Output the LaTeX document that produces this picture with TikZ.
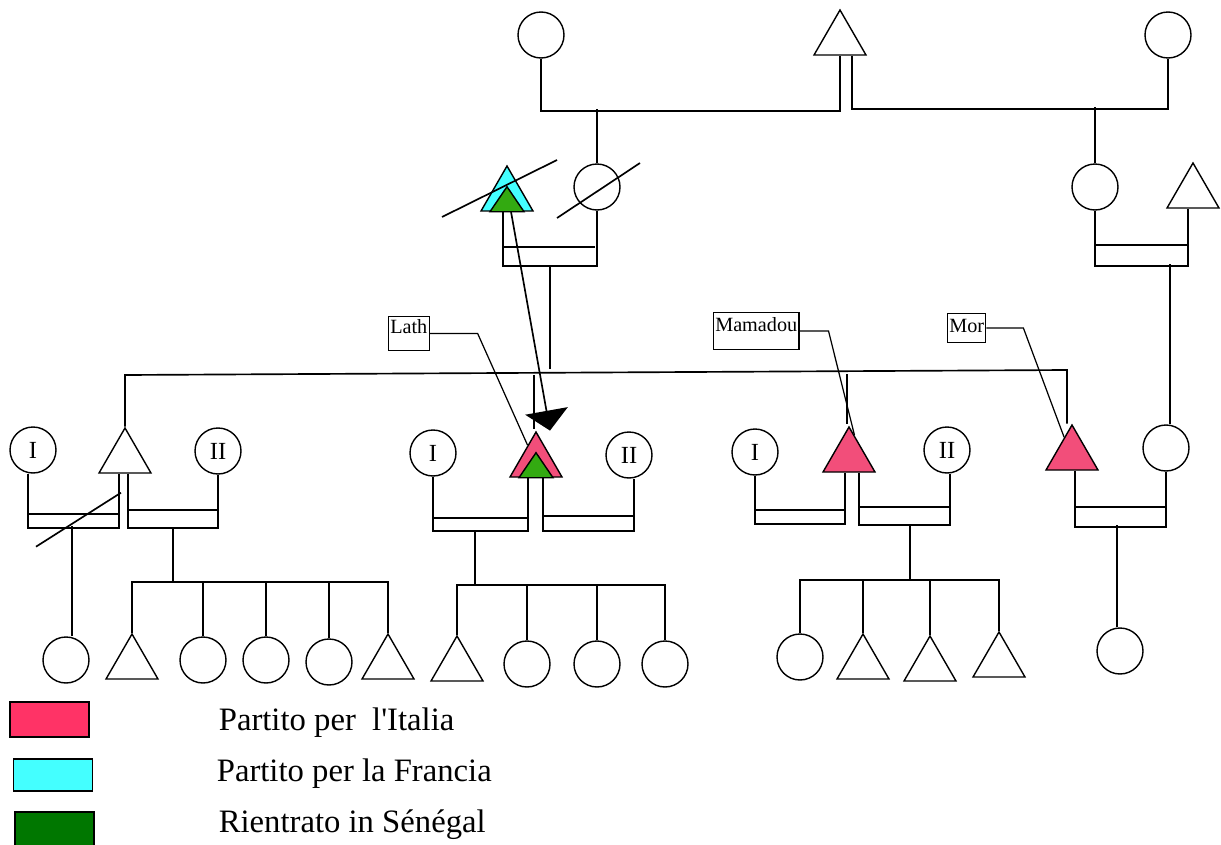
\documentclass[tikz,border=0pt]{standalone}
\usepackage{fontspec}
\setmainfont{Liberation Serif}
\usetikzlibrary{shapes.geometric, arrows.meta, calc}

\definecolor{italia}{HTML}{F24E7A}
\definecolor{italiakey}{HTML}{FF3366}
\definecolor{francia}{HTML}{44FFFF}
\definecolor{rientro}{HTML}{33AA11}
\definecolor{rientrokey}{HTML}{007700}

\begin{document}
\begin{tikzpicture}[x=0.02cm, y=-0.02cm, line width=0.95pt,
    fem/.style={circle, draw, line width=0.8pt, minimum size=0.92cm, inner sep=0pt, font=\fontsize{14}{16}\selectfont},
    mas/.style={regular polygon, regular polygon sides=3, draw, line width=0.8pt, minimum size=1.2cm, inner sep=0pt},
    tag/.style={draw, line width=0.6pt, font=\fontsize{11.5}{13}\selectfont, inner xsep=1pt, inner ysep=0pt, anchor=north west},
    key/.style={draw, line width=1pt, minimum width=1.58cm, minimum height=0.7cm, inner sep=0pt},
    keytext/.style={anchor=base west, font=\fontsize{18.6}{20}\selectfont, inner sep=0pt}]
\useasboundingbox (0,0) rectangle (1221,845);

% grandparents
\node[fem] (gm1) at (541,35) {};
\node[mas] (gf) at (840,40) {};
\node[fem] (gm2) at (1168,35) {};

% parents
\node[mas, fill=francia] (f1) at (507,196) {};
\filldraw[fill=rientro, line width=0.8pt] ($(f1.south)+(-17,0)$) -- ($(f1.south)+(0,-25)$) -- ($(f1.south)+(17,0)$) -- cycle;
\node[fem] (m1) at (597,187) {};
\node[fem] (m2) at (1095,187) {};
\node[mas] (f2) at (1193,193) {};

% brothers and their wives
\node[fem] (wA1) at (33,450) {I};
\node[mas] (hA) at (125,458) {};
\node[fem] (wA2) at (218,451) {II};
\node[fem] (wB1) at (433,453) {I};
\node[mas, fill=italia] (hB) at (536,462) {};
\filldraw[fill=rientro, line width=0.8pt] ($(hB.south)+(-17,0)$) -- ($(hB.south)+(0,-25)$) -- ($(hB.south)+(17,0)$) -- cycle;
\node[fem] (wB2) at (629,455) {II};
\node[fem] (wC1) at (755,452) {I};
\node[mas, fill=italia] (hC) at (849,457) {};
\node[fem] (wC2) at (947,450) {II};
\node[mas, fill=italia] (hD) at (1072,455) {};
\node[fem] (wD) at (1166,448) {};

% children
\node[fem] (c1) at (66,660) {};
\node[mas] (c2) at (132,664) {};
\node[fem] (c3) at (203,660) {};
\node[fem] (c4) at (266,660) {};
\node[fem] (c5) at (329,662) {};
\node[mas] (c6) at (388,664) {};
\node[mas] (c7) at (457,666) {};
\node[fem] (c8) at (527,664) {};
\node[fem] (c9) at (597,664) {};
\node[fem] (c10) at (665,664) {};
\node[fem] (c11) at (800,657) {};
\node[mas] (c12) at (863,664) {};
\node[mas] (c13) at (930,666) {};
\node[mas] (c14) at (999,662) {};
\node[fem] (c15) at (1120,651) {};

% top generation
\draw (gm1.south) -- ++(0,52) -| (gf.south);
\draw ($(gf.south)+(12,0)$) -- ++(0,53) -| (gm2.south);
\draw (m1.north) -- ++(0,-54);
\draw (m2.north) -- ++(0,-56);

% parents
\draw ($(f1)+(-65,21)$) -- ($(f1)+(50,-36)$);
\draw ($(m1)+(-40,31)$) -- ($(m1)+(43,-24)$);
\draw ($(f1.south)+(-4,0)$) -- ++(0,54) -| (m1.south);
\draw ($(f1.south)+(-4,35)$) -- ++(92,0);
\draw ($(f1.south)+(43,54)$) -- ++(0,103);
\draw (m2.south) -- ++(0,55) -| ($(f2.south)+(-5,0)$);
\draw ($(m2.south)+(0,34)$) -- ++(93,0);
\draw ($(wD.north)+(4,0)$) -- ++(0,-160);

% sibling line
\coordinate (sibL) at (125,375);
\coordinate (sibR) at (1067,370);
\draw (hA.north) -- (sibL) -- (sibR) -- (sibR |- hD.north);
\draw ($(hB.north)+(-2,-2)$) -- ++(0,-54);
\draw ($(hC.north)+(-2,-2)$) -- ++(0,-50);

% marriages
\draw ($(wA1.south)+(-5,0)$) -- ++(0,54) -| ($(hA.south)+(-6,0)$);
\draw ($(wA1.south)+(-5,40)$) -- ++(91,0);
\draw ($(hA.south)+(-89,73)$) -- ($(hA.south)+(-4,19)$);
\draw ($(hA.south)+(3,0)$) -- ++(0,54) -| (wA2.south);
\draw ($(hA.south)+(3,36)$) -- ++(90,0);
\draw (wB1.south) -- ++(0,54) -| ($(hB.south)+(-8,0)$);
\draw ($(wB1.south)+(0,41)$) -- ++(95,0);
\draw ($(hB.south)+(7,0)$) -- ++(0,53) -| ($(wB2.south)+(5,0)$);
\draw ($(hB.south)+(7,38)$) -- ++(91,0);
\draw (wC1.south) -- ++(0,48) -| ($(hC.south)+(-4,0)$);
\draw ($(wC1.south)+(0,34)$) -- ++(90,0);
\draw ($(hC.south)+(10,0)$) -- ++(0,52) -| ($(wC2.south)+(3,0)$);
\draw ($(hC.south)+(10,34)$) -- ++(91,0);
\draw ($(hD.south)+(3,0)$) -- ++(0,56) -| (wD.south);
\draw ($(hD.south)+(3,36)$) -- ++(91,0);

% children lines
\draw ($(c1.north)+(6,0)$) -- ++(0,-110);
\coordinate (sA) at (173,582);
\draw ($(hA.south)+(48,54)$) -- (sA);
\draw (c2.north) |- (sA) -| (c6.north);
\foreach \k in {c3,c4,c5} \draw (\k.north) -- (\k.north |- sA);
\coordinate (sB) at (475,585);
\draw ($(wB1.south)+(42,54)$) -- (sB);
\draw (c7.north) |- (sB) -| (c10.north);
\foreach \k in {c8,c9} \draw (\k.north) -- (\k.north |- sB);
\coordinate (sC) at (910,580);
\draw ($(hC.south)+(61,52)$) -- (sC);
\draw (c11.north) |- (sC) -| (c14.north);
\foreach \k in {c12,c13} \draw (\k.north) -- (\k.north |- sC);
\draw ($(c15.north)+(-3,0)$) -- ++(0,-102);

% migration
\draw[-{Triangle[length=0.4cm, width=0.86cm]}] ($(f1.south)+(4,0)$) -- ($(hB.north)+(14,0)$);

% names
\node[tag, text height=9.6pt, text depth=9.6pt] (lath) at (388,316) {Lath};
\draw[line width=0.7pt] (lath.east) -- ++(48,0) -- ($(hB.corner 1)!0.31!(hB.corner 2)$);
\node[tag, text height=10.7pt, text depth=10.2pt] (mam) at (713,312) {Mamadou};
\draw[line width=0.7pt] (mam.east) -- ++(29,0) -- ($(hC.corner 1)!0.2!(hC.corner 3)$);
\node[tag, text height=10.7pt, text depth=5.7pt] (mor) at (947,313) {Mor};
\draw[line width=0.7pt] (mor.east) -- ++(37,0) -- ($(hD.corner 1)!0.29!(hD.corner 2)$);

% legend
\node[key, fill=italiakey] (k1) at (49.5,719.5) {};
\node[key, fill=francia, minimum height=0.64cm] (k2) at (53,775) {};
\node[key, fill=rientrokey] (k3) at (54.5,829.5) {};
\node[keytext] (t1) at (218,730) {Partito per~ l\textquotesingle Italia};
\node[keytext] (t2) at (216,781) {Partito per la Francia};
\node[keytext] (t3) at (218,832) {Rientrato in Sénégal};
\end{tikzpicture}
\end{document}
